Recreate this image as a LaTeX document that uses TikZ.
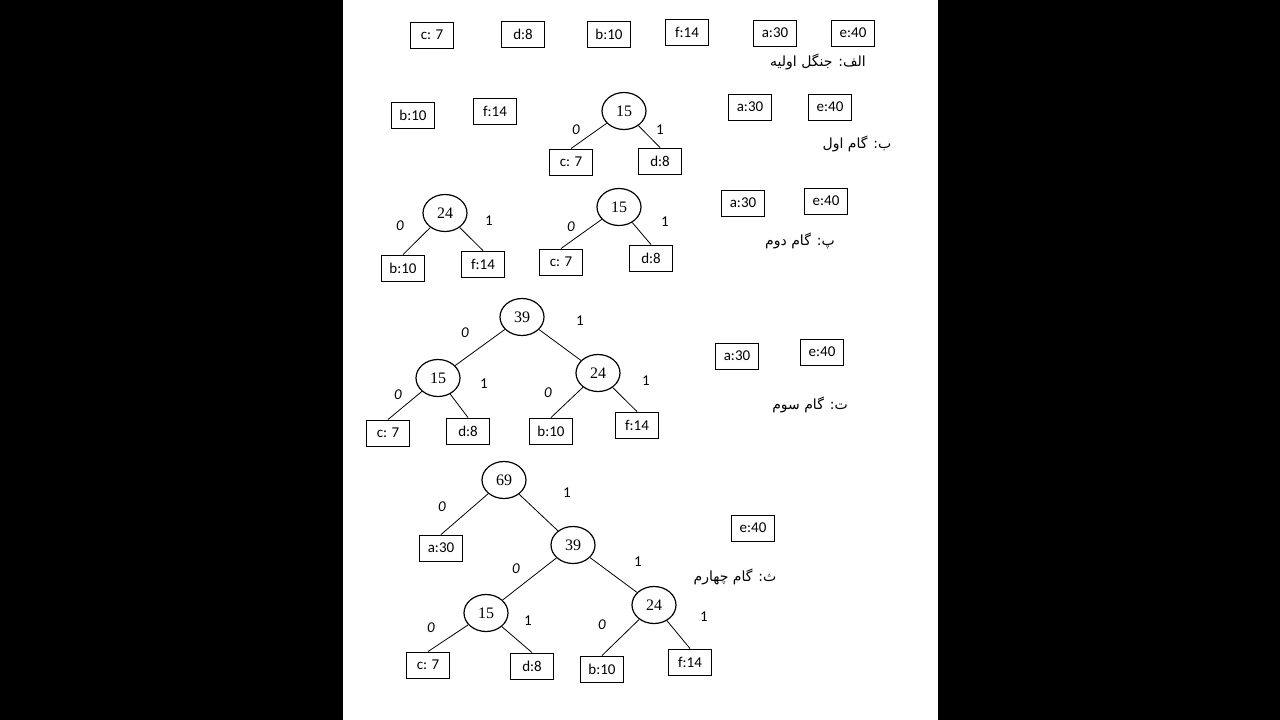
\documentclass[tikz,border=0pt]{standalone}
\usepackage{fontspec}
\setmainfont{Carlito}
\newfontfamily\serifnum{Liberation Serif}
\newfontfamily\arabicfont[Script=Arabic]{DejaVu Sans}
\TeXXeTstate=1
\usetikzlibrary{shapes.geometric}
\begin{document}
\begin{tikzpicture}[x=1pt,y=-1pt,
  leaf/.style={draw,line width=0.9pt,minimum width=43pt,minimum height=26pt,inner sep=1pt,font=\fontsize{15}{15}\selectfont},
  circnode/.style={draw,ellipse,line width=1.2pt,minimum width=44pt,minimum height=37pt,inner sep=0pt,font=\serifnum\fontsize{16}{16}\selectfont},
  zero/.style={font=\itshape\fontsize{15}{15}\selectfont},
  one/.style={font=\fontsize{15}{15}\selectfont},
  fatext/.style={font=\arabicfont\fontsize{14}{14}\selectfont},
  link/.style={line width=0.8pt}]
\fill[black] (0,0) rectangle (1280,720);
\fill[white] (343,0) rectangle (938,720);
\useasboundingbox (0,0) rectangle (1280,720);

% Row A
\node[leaf] (a1) at (432,35) {c: 7};
\node[leaf] (a2) at (523,34) {d:8};
\node[leaf] (a3) at (609,34) {b:10};
\node[leaf] (a4) at (687,32) {f:14};
\node[leaf] (a5) at (775,33) {a:30};
\node[leaf] (a6) at (853,33) {e:40};
\node[fatext] (capA) at (818,62) {\beginR الف: جنگل اولیه\endR};

% Row B
\node[leaf] (b1) at (413,115) {b:10};
\node[leaf] (b2) at (495,111) {f:14};
\node[circnode] (b15) at (624,111) {15};
\node[leaf] (b3) at (571,162) {c: 7};
\node[leaf] (b4) at (660,161) {d:8};
\draw[link] (b15) -- (b3.north);
\draw[link] (b15) -- (b4.north);
\node[zero] (bz) at (576,130) {0};
\node[one] (bo) at (660,130) {1};
\node[leaf] (b5) at (750,107) {a:30};
\node[leaf] (b6) at (830,107) {e:40};
\node[fatext] (capB) at (857,144) {\beginR ب: گام اول\endR};

% Row P
\node[circnode] (p24) at (445,213) {24};
\node[leaf] (p1) at (403,268) {b:10};
\node[leaf] (p2) at (483,264) {f:14};
\draw[link] (p24) -- (p1.north);
\draw[link] (p24) -- (p2.north);
\node[zero] (pz1) at (400,226) {0};
\node[one] (po1) at (489,221) {1};
\node[circnode] (p15) at (619,207) {15};
\node[leaf] (p3) at (561,262) {c: 7};
\node[leaf] (p4) at (651,258) {d:8};
\draw[link] (p15) -- (p3.north);
\draw[link] (p15) -- (p4.north);
\node[zero] (pz2) at (571,227) {0};
\node[one] (po2) at (665,222) {1};
\node[leaf] (p5) at (743,203) {a:30};
\node[leaf] (p6) at (826,201) {e:40};
\node[fatext] (capP) at (800,241) {\beginR پ: گام دوم\endR};

% Row T
\node[circnode] (t39) at (522,317) {39};
\node[circnode] (t15) at (438,378) {15};
\node[circnode] (t24) at (598,373) {24};
\draw[link] (t39) -- (t15);
\draw[link] (t39) -- (t24);
\node[zero] (tz0) at (465,333) {0};
\node[one] (to0) at (580,321) {1};
\node[leaf] (t1) at (388,433) {c: 7};
\node[leaf] (t2) at (468,431) {d:8};
\node[leaf] (t3) at (551,431) {b:10};
\node[leaf] (t4) at (637,425) {f:14};
\draw[link] (t15) -- (t1.north);
\draw[link] (t15) -- (t2.north);
\draw[link] (t24) -- (t3.north);
\draw[link] (t24) -- (t4.north);
\node[zero] (tz1) at (398,395) {0};
\node[one] (to1) at (484,384) {1};
\node[zero] (tz2) at (548,393) {0};
\node[one] (to2) at (646,381) {1};
\node[leaf] (t5) at (737,356) {a:30};
\node[leaf] (t6) at (822,352) {e:40};
\node[fatext] (capT) at (810,405) {\beginR ت: گام سوم\endR};

% Row Th
\node[circnode] (h69) at (504,480) {69};
\node[leaf] (h0) at (441,548) {a:30};
\node[circnode] (h39) at (573,545) {39};
\draw[link] (h69) -- (h0.north);
\draw[link] (h69) -- (h39);
\node[zero] (hz0) at (442,507) {0};
\node[one] (ho0) at (567,493) {1};
\node[circnode] (h15) at (486,613) {15};
\node[circnode] (h24) at (654,605) {24};
\draw[link] (h39) -- (h15);
\draw[link] (h39) -- (h24);
\node[zero] (hz1) at (516,569) {0};
\node[one] (ho1) at (638,562) {1};
\node[leaf] (h1) at (428,665) {c: 7};
\node[leaf] (h2) at (532,666) {d:8};
\node[leaf] (h3) at (602,669) {b:10};
\node[leaf] (h4) at (690,662) {f:14};
\draw[link] (h15) -- (h1.north);
\draw[link] (h15) -- (h2.north);
\draw[link] (h24) -- (h3.north);
\draw[link] (h24) -- (h4.north);
\node[zero] (hz2) at (431,628) {0};
\node[one] (ho2) at (528,621) {1};
\node[zero] (hz3) at (602,625) {0};
\node[one] (ho3) at (704,617) {1};
\node[leaf] (h5) at (753,528) {e:40};
\node[fatext] (capH) at (735,577) {\beginR ث: گام چهارم\endR};
\end{tikzpicture}
\end{document}
